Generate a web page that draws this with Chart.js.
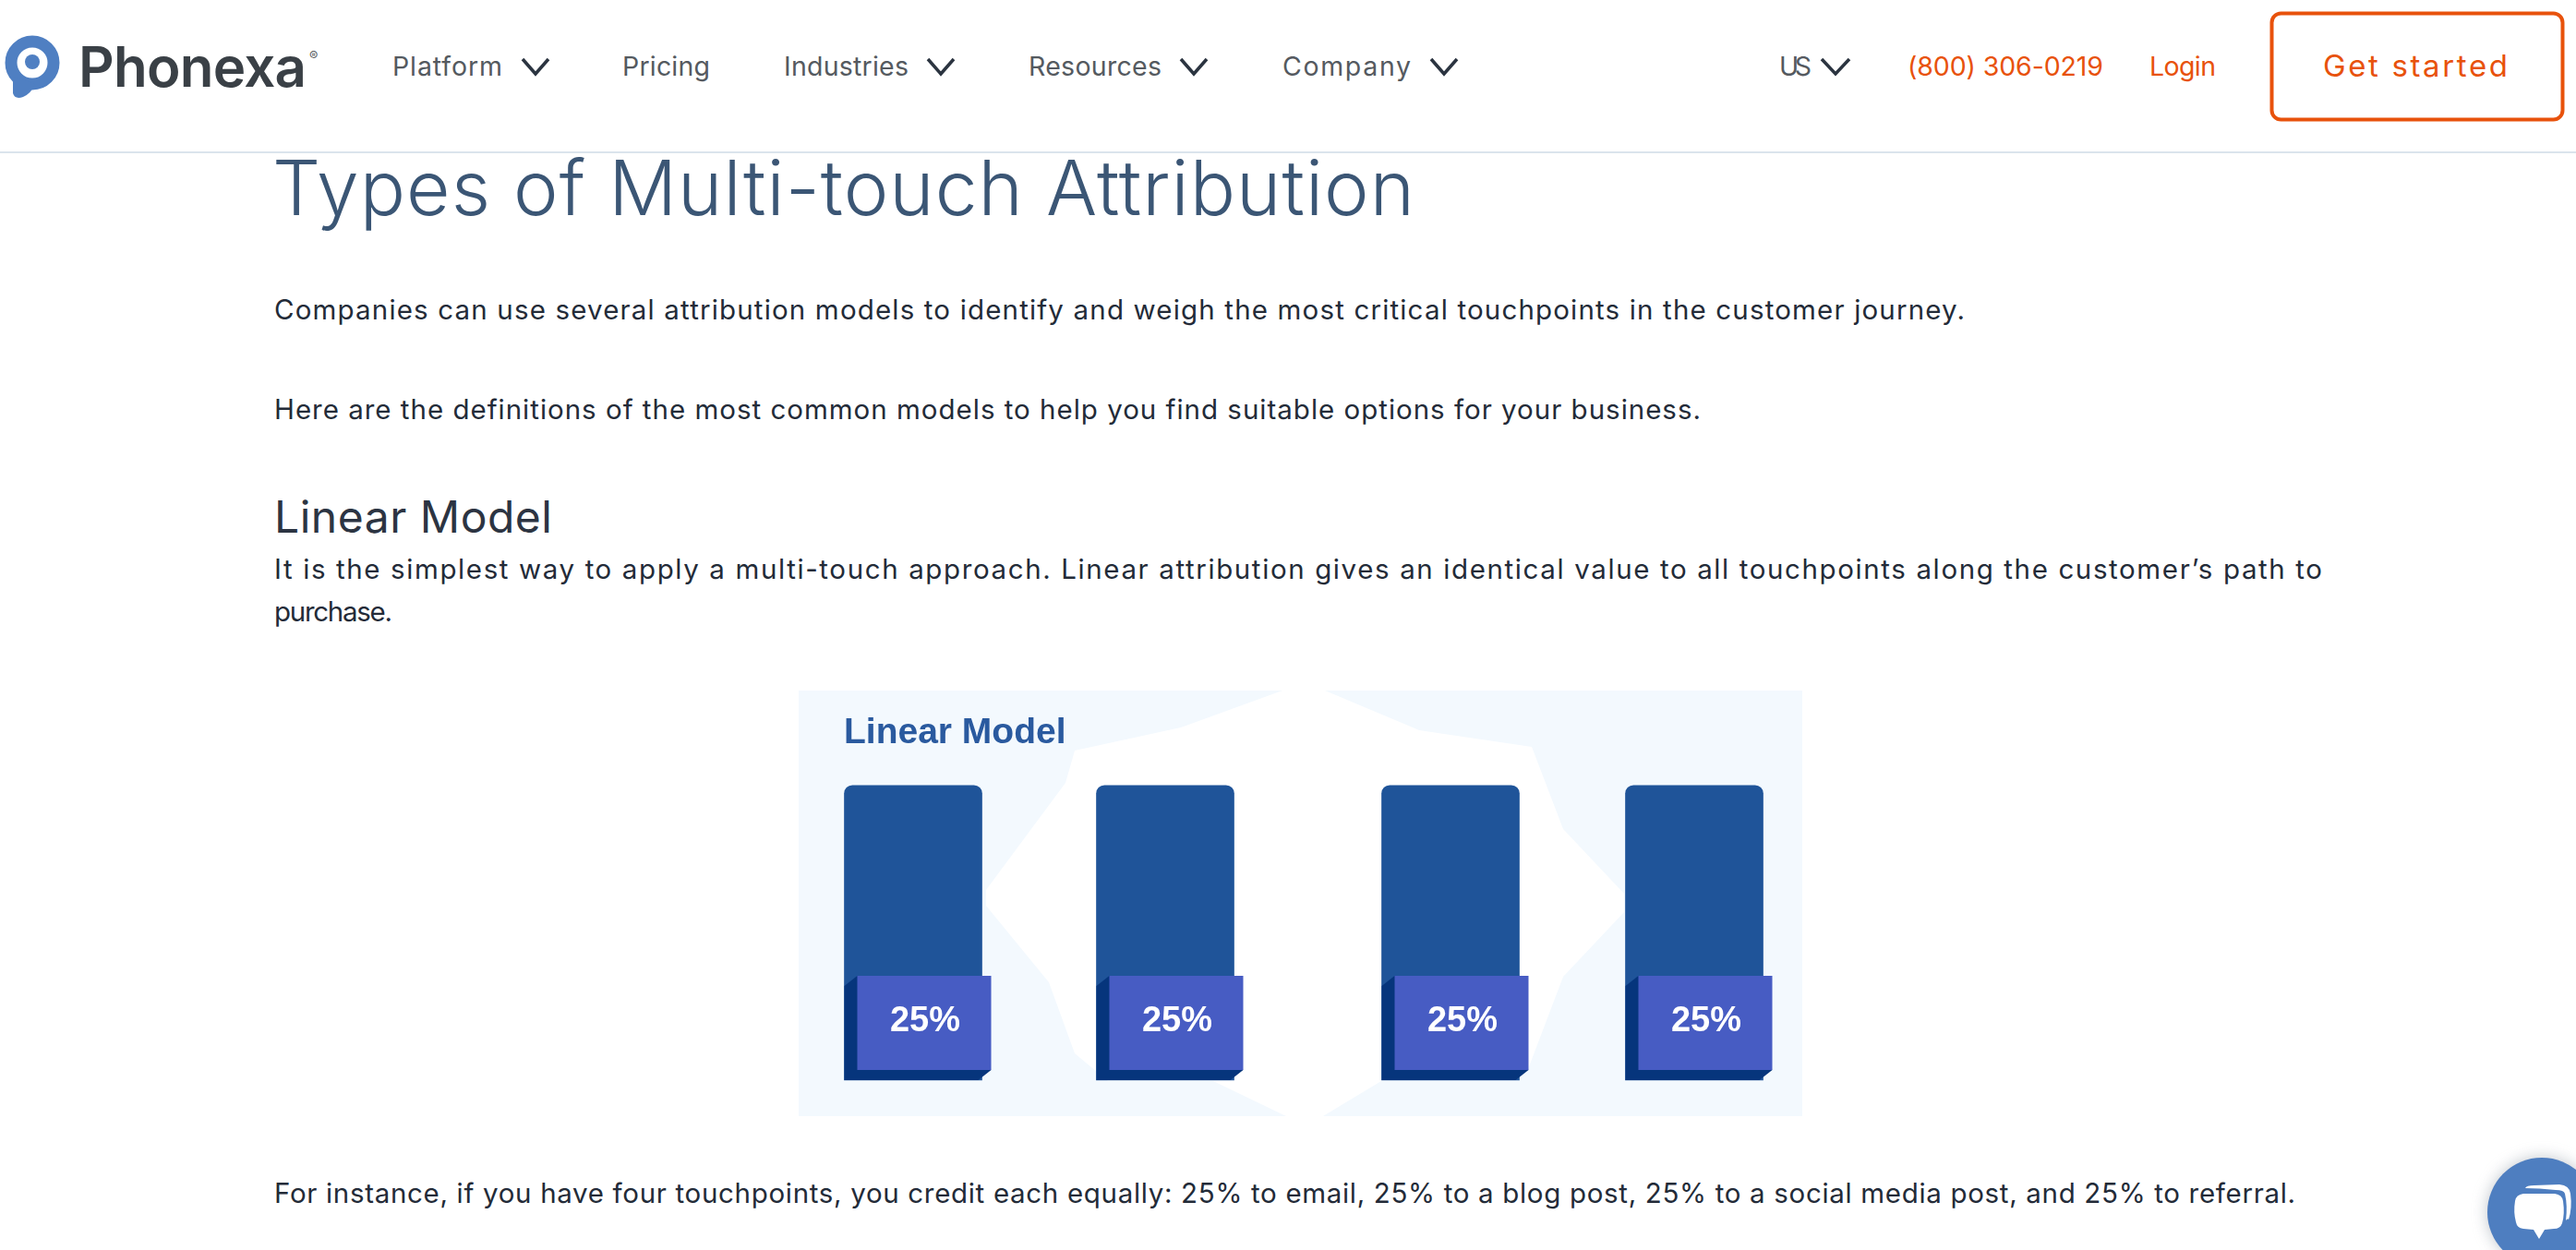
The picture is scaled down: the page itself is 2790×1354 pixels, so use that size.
<!DOCTYPE html>
<html>
<head>
<meta charset="utf-8">
<title>Types of Multi-touch Attribution</title>
<script src="https://cdn.jsdelivr.net/npm/chart.js@4"></script>
<style>
    html, body { margin: 0; padding: 0; background: #fff; }
    body { position: relative; width: 2790px; height: 1354px; overflow: hidden; font-family: Inter, "Open Sans", sans-serif; }
    #art { position: absolute; left: 0; top: 0; }
    #chrtLinear { position: absolute; left: 865px; top: 749px; }
    .t { position: absolute; white-space: nowrap; transform: translateY(-50%); line-height: 1.2; }
    .nav { font-size: 28.5px; color: #555a60; }
    .org { font-size: 28.5px; color: #e8520c; }
    .body { font-size: 29.5px; color: #232b38; }
</style>
</head>
<body>
<svg id="art" width="2790" height="1354" xmlns="http://www.w3.org/2000/svg">
    <defs>
        <filter id="chatShadow" x="-30%" y="-30%" width="160%" height="160%"><feGaussianBlur stdDeviation="8"/></filter>
    </defs>
    <!-- header -->
    <rect x="0" y="164" width="2790" height="2" fill="#dbe4ec"/>
    <circle cx="35" cy="68" r="23" fill="none" stroke="#4f7fc2" stroke-width="13"/>
    <path d="M14 83 L14 101 Q16 108 25 105 Q34 101 38 91 Z" fill="#4f7fc2"/>
    <circle cx="35" cy="67" r="8" fill="#4f7fc2"/>
    <g fill="none" stroke="#2b3440" stroke-width="3.5">
        <polyline points="566,64 580,80 594,64"/>
        <polyline points="1005,64 1019,80 1033,64"/>
        <polyline points="1279,64 1293,80 1307,64"/>
        <polyline points="1550,64 1564,80 1578,64"/>
        <polyline points="1973,64 1988,80 2003,64"/>
    </g>
    <rect x="2460.5" y="14.5" width="315" height="115" rx="10" fill="none" stroke="#e8520c" stroke-width="4"/>
    <!-- image panel behind the chart -->
    <rect x="865" y="748" width="1087" height="461" fill="#f3f9fe"/>
    <polygon fill="#fff" points="1389,748 1279,788 1164,813 1154,848 1068,964 1068,981 1136,1064 1164,1141 1200,1171 1314,1171 1393,1209 1433,1209 1496,1171 1655,1158 1693,1058 1759,988 1759,968 1693,898 1659,809 1537,791 1435,748"/>
    <!-- chat button -->
    <circle cx="2753" cy="1313" r="60" fill="#9aa3ad" opacity="0.55" filter="url(#chatShadow)"/>
    <circle cx="2753" cy="1313" r="59" fill="#4e7ec0"/>
    <path d="M2735 1287 Q2736 1284 2745 1284 L2772 1283 Q2783 1284 2784 1293 Q2786 1309 2782 1321 Q2781 1319 2779 1322 Q2781 1306 2778 1293 Q2777 1289 2768 1289 Q2750 1287 2735 1287 Z" fill="#fff"/>
    <path d="M2733 1293 L2767 1293 Q2775 1294 2776 1301 Q2778 1315 2775 1325 Q2773 1331 2766 1331 L2756 1332 L2750 1342 L2744 1332 L2733 1331 Q2726 1330 2725 1324 Q2722 1313 2724 1301 Q2725 1294 2733 1293 Z" fill="#fff"/>
</svg>

<canvas id="chrtLinear" width="1086" height="461"></canvas>

<span class="t" style="left:85px;top:72px;font-size:60px;font-weight:600;color:#3a4046" data-w="247">Phonexa</span>
<span class="t" style="left:335px;top:61px;font-size:14px;color:#555a60">®</span>
<span class="t nav" style="left:425px;top:72px" data-w="119">Platform</span>
<span class="t nav" style="left:674px;top:72px" data-w="95">Pricing</span>
<span class="t nav" style="left:849px;top:72px" data-w="135">Industries</span>
<span class="t nav" style="left:1114px;top:72px" data-w="144">Resources</span>
<span class="t nav" style="left:1389px;top:72px" data-w="139">Company</span>
<span class="t nav" style="left:1927px;top:72px" data-w="35">US</span>
<span class="t org" style="left:2066px;top:72px" data-w="212">(800) 306-0219</span>
<span class="t org" style="left:2328px;top:72px" data-w="72">Login</span>
<span class="t org" style="left:2516px;top:72px;font-size:33px" data-w="200">Get started</span>

<span class="t" style="left:295px;top:204px;font-size:82px;font-weight:300;color:#3b5675" data-w="1237">Types of Multi-touch Attribution</span>
<span class="t body" style="left:297px;top:336px" data-w="1831">Companies can use several attribution models to identify and weigh the most critical touchpoints in the customer journey.</span>
<span class="t body" style="left:297px;top:444px" data-w="1545">Here are the definitions of the most common models to help you find suitable options for your business.</span>
<span class="t" style="left:297px;top:560px;font-size:48px;color:#2c3442" data-w="301">Linear Model</span>
<span class="t body" style="left:297px;top:617px" data-w="2218">It is the simplest way to apply a multi-touch approach. Linear attribution gives an identical value to all touchpoints along the customer’s path to</span>
<span class="t body" style="left:297px;top:663px" data-w="128">purchase.</span>
<span class="t body" style="left:297px;top:1293px" data-w="2189">For instance, if you have four touchpoints, you credit each equally: 25% to email, 25% to a blog post, 25% to a social media post, and 25% to referral.</span>

<script>
const touchpoints = ["Email", "Blog post", "Social media post", "Referral"];
const creditShare = [25, 25, 25, 25];
const chartTitle = "Linear Model";

// the bars in the picture are not quite evenly spaced
const barNudge = [0, -9, 18, 0];

const shiftBars = {
    id: "shiftBars",
    afterDatasetsUpdate(chart) {
        chart.getDatasetMeta(0).data.forEach((bar, i) => {
            bar.x += barNudge[i];
        });
    }
};

// the 3d label block sitting at the foot of each bar
const labelBlocks = {
    id: "labelBlocks",
    afterDatasetsDraw(chart) {
        const ctx = chart.ctx;
        chart.getDatasetMeta(0).data.forEach((bar, i) => {
            const left = bar.x - bar.width / 2,
                base = bar.base,
                frontL = left + 14,
                frontR = left + bar.width + 10,
                frontT = base - 113,
                frontB = base - 11;
            ctx.fillStyle = "#06357c";
            ctx.beginPath();
            ctx.moveTo(left, frontT + 11);
            ctx.lineTo(frontL, frontT);
            ctx.lineTo(frontR, frontB);
            ctx.lineTo(frontR - 14, base);
            ctx.lineTo(left, base);
            ctx.closePath();
            ctx.fill();
            ctx.fillStyle = "#475cc3";
            ctx.fillRect(frontL, frontT, frontR - frontL, frontB - frontT);
            ctx.fillStyle = "#fff";
            ctx.font = "bold 38px 'Liberation Sans'";
            ctx.textAlign = "center";
            ctx.textBaseline = "middle";
            ctx.fillText(creditShare[i] + "%", (frontL + frontR) / 2 + 1, (frontT + frontB) / 2 - 1);
        });
    }
};

new Chart(document.getElementById("chrtLinear"), {
    type: "bar",
    data: {
        labels: touchpoints,
        datasets: [{
            data: creditShare,
            backgroundColor: "#1f5499",
            barThickness: 149,
            borderRadius: { topLeft: 9, topRight: 9 },
            borderSkipped: "bottom",
            clip: false
        }]
    },
    options: {
        responsive: false,
        animation: false,
        layout: { padding: { left: 49, right: 116, top: 22, bottom: 40 } },
        plugins: {
            legend: { display: false },
            tooltip: { enabled: false },
            title: {
                display: true,
                text: chartTitle,
                align: "start",
                color: "#2a5a9f",
                font: { family: "'Liberation Sans'", size: 39, weight: "bold", lineHeight: 1.2 },
                padding: { top: 0, bottom: 33 }
            }
        },
        scales: {
            x: { display: false, offset: false },
            y: {
                min: 0,
                max: 25,
                ticks: { display: false },
                grid: { display: false },
                border: { display: false },
                afterFit: s => { s.width = 75; }
            }
        }
    },
    plugins: [shiftBars, labelBlocks]
});

// stretch each line of page text to the width it has in the picture
document.querySelectorAll(".t[data-w]").forEach(el => {
    const n = el.textContent.length - 1;
    el.style.letterSpacing = ((+el.dataset.w - el.getBoundingClientRect().width) / n) + "px";
});
</script>
</body>
</html>
